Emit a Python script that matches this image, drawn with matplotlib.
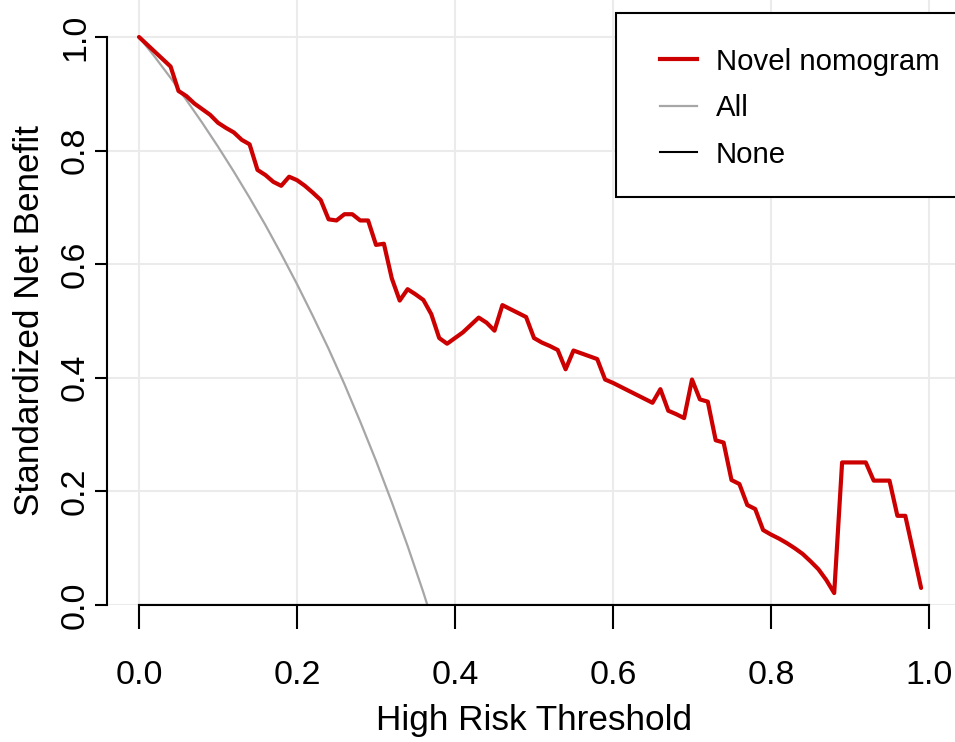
import numpy as np
import matplotlib
matplotlib.use('Agg')
import matplotlib.pyplot as plt
from matplotlib.patches import Rectangle
from matplotlib.lines import Line2D

plt.rcParams['font.family'] = ['Liberation Sans', 'DejaVu Sans']

# thresholds 0.00 .. 0.99
threshold = np.arange(100) / 100

nomogram = [
    1.000, 0.987, 0.974, 0.961, 0.948, 0.905, 0.896, 0.883, 0.873, 0.863,
    0.849, 0.840, 0.832, 0.819, 0.811, 0.766, 0.757, 0.745, 0.738, 0.754,
    0.748, 0.738, 0.726, 0.713, 0.679, 0.677, 0.688, 0.688, 0.677, 0.677,
    0.634, 0.636, 0.575, 0.536, 0.556, 0.547, 0.537, 0.512, 0.470, 0.460,
    0.470, 0.480, 0.493, 0.506, 0.497, 0.483, 0.528, 0.521, 0.514, 0.507,
    0.470, 0.462, 0.456, 0.449, 0.415, 0.448, 0.443, 0.438, 0.433, 0.397,
    0.391, 0.384, 0.377, 0.370, 0.363, 0.356, 0.380, 0.342, 0.336, 0.329,
    0.397, 0.362, 0.358, 0.290, 0.286, 0.220, 0.213, 0.176, 0.169, 0.132,
    0.124, 0.117, 0.109, 0.100, 0.090, 0.077, 0.063, 0.044, 0.021, 0.251,
    0.251, 0.251, 0.251, 0.219, 0.219, 0.219, 0.157, 0.157, 0.094, 0.030,
]

# treat-all curve
all_x = [0.00, 0.02, 0.04, 0.06, 0.08, 0.10, 0.12, 0.14, 0.16, 0.18,
         0.20, 0.22, 0.24, 0.26, 0.28, 0.30, 0.32, 0.34, 0.36, 0.365]
all_y = [1.000, 0.965, 0.928, 0.889, 0.849, 0.807, 0.763, 0.717, 0.669, 0.618,
         0.565, 0.509, 0.451, 0.389, 0.323, 0.254, 0.181, 0.104, 0.022, 0.000]

none_x = [0.0, 1.0]
none_y = [0.0, 0.0]

ticks = [0.0, 0.2, 0.4, 0.6, 0.8, 1.0]
tick_labels = ['0.0', '0.2', '0.4', '0.6', '0.8', '1.0']

W, H = 955, 742
fig = plt.figure(figsize=(W / 100, H / 100), dpi=100)
# axes placed in pixel terms: x=0 -> 139px, x=1 -> 929px; y=0 -> 605px, y=1 -> 37px
xs, ys = 790, 568
x0, x1 = -0.0405, 1.04
y0, y1 = 0.0, 1.07
left = 139 + x0 * xs
bottom = H - 605
ax = fig.add_axes([left / W, bottom / H, (x1 - x0) * xs / W, (y1 - y0) * ys / H])
ax.set_xlim(x0, x1)
ax.set_ylim(y0, y1)

for t in ticks:
    ax.axvline(t, color='#EBEBEB', lw=1.5, zorder=0)
    ax.axhline(t, color='#EBEBEB', lw=1.5, zorder=0)

red = '#CC0000'
grey = '#A6A6A6'
ax.plot(threshold, nomogram, color=red, lw=3.0, solid_joinstyle='round',
        solid_capstyle='round', zorder=3)
ax.plot(all_x, all_y, color=grey, lw=1.6, zorder=2)
ax.plot(none_x, none_y, color='black', lw=1.5, zorder=2)

for s in ['top', 'right']:
    ax.spines[s].set_visible(False)
ax.spines['left'].set_bounds(0, 1)
ax.spines['bottom'].set_bounds(0, 1)
ax.spines['left'].set_linewidth(1.5)
ax.spines['bottom'].set_linewidth(1.5)

ax.set_xticks(ticks)
ax.set_xticklabels(tick_labels)
ax.set_yticks(ticks)
ax.set_yticklabels(tick_labels, rotation=90, va='center')
ax.tick_params(axis='x', length=17.3, width=1.5, pad=22, labelsize=24.5)
ax.tick_params(axis='y', length=8.6, width=1.5, pad=3, labelsize=24.5)

ax.set_xlabel('High Risk Threshold', fontsize=25.3)
ax.set_ylabel('Standardized Net Benefit', fontsize=25.3)
ax.xaxis.set_label_coords((0.5 - x0) / (x1 - x0), -0.163)
# centred on y = 0.5 like the x label is centred on x = 0.5
ax.yaxis.set_label_coords(-0.071, 0.5 / (y1 - y0))

# legend box, drawn in figure pixels
def fx(px):
    return px / W

def fy(py):
    return 1 - py / H

fig.patches.append(Rectangle((fx(616), fy(197)), fx(980) - fx(616), fy(13) - fy(197),
                             transform=fig.transFigure, fill=True, facecolor='white',
                             edgecolor='black', lw=1.5, zorder=5))
legend_names = ['Novel nomogram', 'All', 'None']
legend_colors = [red, grey, 'black']
legend_widths = [3.0, 1.6, 1.5]
for i, (name, c, w) in enumerate(zip(legend_names, legend_colors, legend_widths)):
    yy = 59 + i * 46.5
    fig.lines.append(Line2D([fx(660), fx(697)], [fy(yy), fy(yy)], color=c, lw=w,
                            transform=fig.transFigure, zorder=6))
    fig.text(fx(716), fy(yy), name, fontsize=21.2, va='center_baseline', ha='left',
             zorder=6)

fig.savefig('out.png', dpi=100)
